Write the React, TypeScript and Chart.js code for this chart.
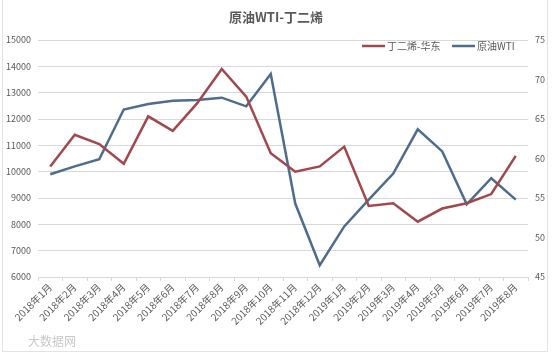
import React, { useEffect, useRef } from "react";
import { Chart, registerables } from "chart.js";

Chart.register(...registerables);

const categories = [
  "2018年1月", "2018年2月", "2018年3月", "2018年4月", "2018年5月", "2018年6月", "2018年7月",
  "2018年8月", "2018年9月", "2018年10月", "2018年11月", "2018年12月", "2019年1月", "2019年2月",
  "2019年3月", "2019年4月", "2019年5月", "2019年6月", "2019年7月", "2019年8月",
];
const butadieneEast = [
  10200, 11400, 11050, 10300, 12100, 11550, 12600, 13900, 12850, 10700,
  10000, 10200, 10950, 8700, 8800, 8100, 8600, 8800, 9150, 10600,
];
const wtiCrude = [
  58.0, 59.0, 59.9, 66.2, 66.9, 67.3, 67.4, 67.7, 66.6, 70.7,
  54.3, 46.5, 51.4, 54.8, 58.1, 63.7, 60.9, 54.2, 57.5, 54.8,
];
const seriesNames = ["丁二烯-华东", "原油WTI"];
const titleText = "原油WTI-丁二烯";
const watermarkText = "大数据网";

const RED = "#A0484C";
const BLUE = "#4E6C8C";
const TEXT = "#595959";
const FONT = "'Noto Sans CJK SC', 'Noto Sans', sans-serif";

const overlayPlugin = {
  id: "overlay",
  afterDraw(chart: any) {
    const ctx = chart.ctx;
    ctx.save();
    ctx.fillStyle = TEXT;
    ctx.font = `bold 13px ${FONT}`;
    ctx.textAlign = "center";
    ctx.textBaseline = "middle";
    ctx.fillText(titleText, 276, 17);
    // legend
    ctx.font = `10px ${FONT}`;
    ctx.textAlign = "left";
    const items = [
      { x: 362, color: RED, label: seriesNames[0] },
      { x: 452, color: BLUE, label: seriesNames[1] },
    ];
    items.forEach((it) => {
      ctx.strokeStyle = it.color;
      ctx.lineWidth = 2.5;
      ctx.beginPath();
      ctx.moveTo(it.x, 46);
      ctx.lineTo(it.x + 23, 46);
      ctx.stroke();
      ctx.fillStyle = TEXT;
      ctx.fillText(it.label, it.x + 25, 46);
    });
    ctx.restore();
  },
};

export default function App() {
  const ref = useRef<HTMLCanvasElement | null>(null);
  useEffect(() => {
    if (!ref.current) return;
    const chart = new Chart(ref.current, {
      type: "line",
      data: {
        labels: categories,
        datasets: [
          {
            label: seriesNames[0],
            data: butadieneEast,
            borderColor: RED,
            backgroundColor: RED,
            borderWidth: 2.5,
            pointRadius: 0,
            tension: 0,
            yAxisID: "y",
          },
          {
            label: seriesNames[1],
            data: wtiCrude,
            borderColor: BLUE,
            backgroundColor: BLUE,
            borderWidth: 2.5,
            pointRadius: 0,
            tension: 0,
            yAxisID: "y1",
          },
        ],
      },
      options: {
        animation: false,
        responsive: false,
        maintainAspectRatio: false,
        layout: { padding: { top: 40, left: 0, right: 0, bottom: 0 } },
        plugins: {
          legend: { display: false },
          title: { display: false },
          tooltip: { enabled: false },
        },
        scales: {
          x: {
            type: "category",
            offset: true,
            grid: {
              display: true,
              offset: true,
              drawOnChartArea: false,
              drawTicks: true,
              tickLength: 4,
              color: "#D9D9D9",
            },
            border: { display: true, color: "#D9D9D9" },
            ticks: {
              minRotation: 45,
              maxRotation: 45,
              autoSkip: false,
              padding: 0,
              color: TEXT,
              font: { family: FONT, size: 10 },
            },
            afterFit(scale: any) {
              scale.height = 79;
            },
          },
          y: {
            position: "left",
            min: 6000,
            max: 15000,
            ticks: {
              stepSize: 1000,
              padding: 7,
              color: TEXT,
              font: { family: FONT, size: 9 },
              callback: (v: any) => String(v),
            },
            grid: { color: "#D9D9D9", drawTicks: false },
            border: { display: false },
            afterFit(scale: any) {
              scale.width = 38;
            },
          },
          y1: {
            position: "right",
            min: 45,
            max: 75,
            ticks: {
              stepSize: 5,
              padding: 7,
              color: TEXT,
              font: { family: FONT, size: 9 },
              callback: (v: any) => String(v),
            },
            grid: { drawOnChartArea: false, drawTicks: false },
            border: { display: false },
            afterFit(scale: any) {
              scale.width = 25;
            },
          },
        },
      },
      plugins: [overlayPlugin],
    });
    return () => chart.destroy();
  }, []);

  return (
    <div style={{ position: "fixed", left: 0, top: 0, width: 553, height: 356, background: "#fff" }}>
      <div
        style={{
          position: "absolute",
          left: 2,
          top: -1,
          width: 546,
          height: 353,
          border: "1px solid #E3E3E3",
          boxSizing: "border-box",
        }}
      />
      <canvas ref={ref} width={553} height={356} style={{ position: "absolute", left: 0, top: 0 }} />
      <div
        style={{
          position: "absolute",
          left: 28,
          top: 332,
          fontFamily: FONT,
          fontSize: 12,
          color: "#C8C8C8",
        }}
      >
        {watermarkText}
      </div>
    </div>
  );
}
